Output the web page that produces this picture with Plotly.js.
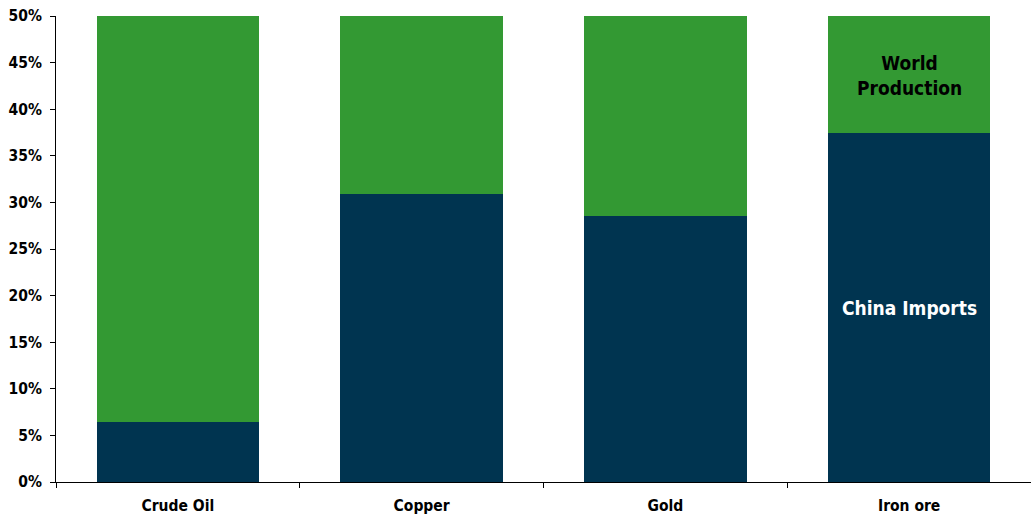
<!DOCTYPE html>
<html><head><meta charset="utf-8">
<script src="https://cdn.plot.ly/plotly-3.0.1.min.js"></script>
<style>html,body{margin:0;padding:0;background:#fff}#chart{width:1031px;height:515px}</style>
</head><body><div id="chart"></div>
<script>
const categories = ["Crude Oil", "Copper", "Gold", "Iron ore"];
const chinaImports = [6.45, 30.9, 28.5, 37.4];
const worldProduction = [43.55, 19.1, 21.5, 12.6];
const yTickVals = [0, 5, 10, 15, 20, 25, 30, 35, 40, 45, 50];
const yTickText = ["0%", "5%", "10%", "15%", "20%", "25%", "30%", "35%", "40%", "45%", "50%"];

const FONT = "'DejaVu Sans Condensed', 'Liberation Sans Narrow', 'Arial Narrow', sans-serif";

const data = [
  {type: "bar", x: categories, y: chinaImports, name: "China Imports",
   marker: {color: "#003450"}, hoverinfo: "none"},
  {type: "bar", x: categories, y: worldProduction, name: "World Production",
   marker: {color: "#339933"}, hoverinfo: "none"}
];

const layout = {
  width: 1031, height: 515,
  margin: {l: 56, r: 0, t: 16, b: 33},
  barmode: "stack",
  bargap: 0.333,
  showlegend: false,
  paper_bgcolor: "#fff", plot_bgcolor: "#fff",
  font: {family: FONT, size: 16, color: "#000"},
  xaxis: {
    type: "category", showline: true, linecolor: "#000", linewidth: 1,
    ticks: "outside", tickson: "boundaries", ticklen: 5, tickcolor: "#000",
    ticklabelstandoff: 9,
    tickfont: {family: FONT, size: 15.5, color: "#000", weight: "bold"},
    showgrid: false, zeroline: false
  },
  yaxis: {
    range: [0, 50], tickvals: yTickVals, ticktext: yTickText,
    showline: true, linecolor: "#000", linewidth: 1,
    ticks: "outside", ticklen: 5, tickcolor: "#000",
    ticklabelstandoff: 5,
    tickfont: {family: FONT, size: 15.5, color: "#000", weight: "bold"},
    showgrid: false, zeroline: false
  },
  annotations: [
    {x: "Iron ore", y: 43.6, xref: "x", yref: "y", text: "World<br>Production",
     showarrow: false, font: {family: FONT, size: 19, color: "#000", weight: "bold"}},
    {x: "Iron ore", y: 18.7, xref: "x", yref: "y", text: "China Imports",
     showarrow: false, font: {family: FONT, size: 19, color: "#fff", weight: "bold"}}
  ]
};

Plotly.newPlot("chart", data, layout, {displayModeBar: false, staticPlot: true});
</script></body></html>
